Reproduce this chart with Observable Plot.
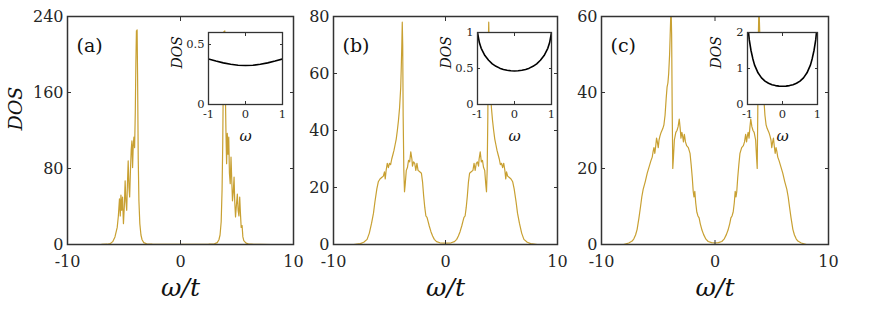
<!DOCTYPE html>
<html>
<head>
<meta charset="utf-8">
<script src="https://cdn.jsdelivr.net/npm/d3@7"></script>
<script src="https://cdn.jsdelivr.net/npm/@observablehq/plot@0.6"></script>
<style>
  html, body { margin: 0; padding: 0; background: #fff; }
  #root { position: relative; width: 872px; height: 309px; overflow: hidden; }
  #root > svg { position: absolute; background: transparent !important; overflow: visible !important; }
</style>
</head>
<body>
<div id="root"></div>
<script>
// ---------- Data ----------
const xTicks = [-10, 0, 10];
const insetXTicks = [-1, 0, 1];

const yTicksA = [0, 80, 160, 240];
const yTicksB = [0, 20, 40, 60, 80];
const yTicksC = [0, 20, 40, 60];

const insetYTicksA = [0, 0.5];
const insetYTicksB = [0, 0.5, 1];
const insetYTicksC = [0, 1, 2];

const panelLabels = ["(a)", "(b)", "(c)"];

// Panel (a) main DOS
const omegaA = [-8.0, -7.0, -6.5, -6.2, -6.0, -5.8, -5.6, -5.5, -5.4, -5.33, -5.27, -5.2, -5.13, -5.05, -4.97, -4.9, -4.83, -4.76, -4.7, -4.63, -4.56, -4.5, -4.43, -4.36, -4.3, -4.24, -4.18, -4.12, -4.06, -4.0, -3.95, -3.9, -3.87, -3.84, -3.8, -3.74, -3.68, -3.6, -3.5, -3.4, -3.25, -3.0, -2.5, -2.0, -1.0, 0.0, 1.0, 2.0, 2.5, 3.0, 3.25, 3.4, 3.5, 3.6, 3.68, 3.74, 3.8, 3.84, 3.88, 3.92, 3.97, 4.02, 4.08, 4.14, 4.2, 4.27, 4.33, 4.4, 4.47, 4.53, 4.6, 4.67, 4.74, 4.8, 4.87, 4.95, 5.03, 5.1, 5.17, 5.24, 5.3, 5.37, 5.45, 5.52, 5.6, 5.8, 6.0, 6.5, 7.0, 8.0];
const dosA = [0, 0.1, 0.3, 1, 3, 8, 18, 30, 48, 30, 52, 36, 50, 22, 40, 67, 45, 36, 62, 88, 60, 50, 78, 100, 109, 81, 105, 113, 102, 140, 190, 225, 212, 226, 180, 90, 46, 22, 10, 5, 2, 0.8, 0.3, 0.2, 0.2, 0.2, 0.2, 0.2, 0.3, 0.8, 2, 5, 10, 24, 58, 108, 190, 224, 212, 225, 160, 120, 85, 117, 95, 113, 75, 64, 92, 70, 46, 55, 71, 45, 29, 42, 53, 36, 30, 50, 34, 18, 20, 8, 4, 1.5, 0.6, 0.2, 0.1, 0];

// Panel (b) main DOS
const omegaB = [-8.2, -7.6, -7.3, -7.0, -6.8, -6.6, -6.43, -6.3, -6.13, -6.0, -5.85, -5.7, -5.55, -5.45, -5.38, -5.3, -5.2, -5.1, -5.0, -4.9, -4.8, -4.7, -4.6, -4.5, -4.4, -4.3, -4.2, -4.1, -4.0, -3.95, -3.9, -3.86, -3.82, -3.78, -3.72, -3.66, -3.6, -3.5, -3.4, -3.3, -3.2, -3.1, -3.0, -2.95, -2.85, -2.75, -2.65, -2.55, -2.45, -2.3, -2.15, -2.05, -1.95, -1.85, -1.75, -1.65, -1.55, -1.45, -1.3, -1.15, -1.0, -0.8, -0.5, 0.0, 0.5, 0.8, 1.0, 1.15, 1.3, 1.45, 1.55, 1.65, 1.75, 1.85, 1.95, 2.05, 2.15, 2.3, 2.45, 2.55, 2.65, 2.75, 2.85, 2.95, 3.0, 3.1, 3.2, 3.3, 3.4, 3.5, 3.6, 3.66, 3.72, 3.78, 3.82, 3.86, 3.9, 3.95, 4.0, 4.1, 4.2, 4.3, 4.4, 4.5, 4.6, 4.7, 4.8, 4.9, 5.0, 5.1, 5.2, 5.3, 5.38, 5.45, 5.55, 5.7, 5.85, 6.0, 6.13, 6.3, 6.43, 6.6, 6.8, 7.0, 7.3, 7.6, 8.2];
const dosB = [0, 0.3, 0.8, 1.8, 4, 7.5, 11, 15, 19.5, 22, 23, 23.5, 24, 25.5, 23, 26, 28.5, 27, 28.5, 28, 30, 31.5, 33, 35, 37, 40, 43.5, 48, 55, 62, 70, 78, 70, 45, 26, 18.5, 21, 26, 27, 29.5, 29, 32.5, 30, 27.5, 29, 28.5, 26, 28.5, 26, 25.5, 25, 22, 17, 13, 10, 9.5, 8, 6.5, 4.5, 3, 1.8, 1, 0.6, 0.5, 0.6, 1, 1.8, 3, 4.5, 6.5, 8, 9.5, 10, 13, 17, 22, 25, 25.5, 26, 28.5, 26, 28.5, 29, 27.5, 30, 32.5, 29, 29.5, 27, 26, 21, 18.5, 26, 45, 70, 78, 70, 62, 55, 48, 43.5, 40, 37, 35, 33, 31.5, 30, 28, 28.5, 27, 28.5, 26, 23, 25.5, 24, 23.5, 23, 22, 19.5, 15, 11, 7.5, 4, 1.8, 0.8, 0.3, 0];

// Panel (c) main DOS
const omegaC = [-8.05, -7.6, -7.3, -7.15, -7.0, -6.86, -6.7, -6.56, -6.45, -6.33, -6.15, -5.97, -5.8, -5.65, -5.53, -5.45, -5.38, -5.3, -5.22, -5.15, -5.08, -5.0, -4.93, -4.85, -4.75, -4.6, -4.5, -4.4, -4.3, -4.22, -4.15, -4.08, -4.0, -3.95, -3.9, -3.86, -3.82, -3.77, -3.72, -3.66, -3.58, -3.45, -3.35, -3.25, -3.15, -3.08, -3.0, -2.92, -2.85, -2.78, -2.7, -2.6, -2.5, -2.35, -2.2, -2.1, -2.0, -1.92, -1.85, -1.78, -1.7, -1.6, -1.5, -1.4, -1.3, -1.15, -1.0, -0.8, -0.6, -0.3, 0.0, 0.3, 0.6, 0.8, 1.0, 1.15, 1.3, 1.4, 1.5, 1.6, 1.7, 1.78, 1.85, 1.92, 2.0, 2.1, 2.2, 2.35, 2.5, 2.6, 2.7, 2.78, 2.85, 2.92, 3.0, 3.08, 3.15, 3.25, 3.35, 3.45, 3.58, 3.66, 3.72, 3.77, 3.82, 3.86, 3.9, 3.95, 4.0, 4.08, 4.15, 4.22, 4.3, 4.4, 4.5, 4.6, 4.75, 4.85, 4.93, 5.0, 5.08, 5.15, 5.22, 5.3, 5.38, 5.45, 5.53, 5.65, 5.8, 5.97, 6.15, 6.33, 6.45, 6.56, 6.7, 6.86, 7.0, 7.15, 7.3, 7.6, 8.05];
const dosC = [0, 0.4, 0.9, 1.5, 2.5, 4, 7, 10, 12.5, 14.5, 16.5, 18.8, 20.5, 22, 23, 24.5, 25.5, 24, 26, 28, 27, 25.5, 27.5, 28.5, 29.5, 30.5, 31.5, 34, 38.5, 41.5, 42.5, 45, 50, 55, 60, 61, 55, 35, 20, 23, 27.5, 29.5, 30, 31, 33, 31, 28, 29.5, 28.5, 27, 29, 27, 26, 25.5, 24, 21, 17.5, 14, 12.5, 14, 11, 8.5, 7.5, 7, 5.5, 3.8, 2.6, 1.4, 0.8, 0.5, 0.4, 0.5, 0.8, 1.4, 2.6, 3.8, 5.5, 7, 7.5, 8.5, 11, 14, 12.5, 14, 17.5, 21, 24, 25.5, 26, 27, 29, 27, 28.5, 29.5, 28, 31, 33, 31, 30, 29.5, 27.5, 23, 20, 35, 55, 61, 60, 55, 50, 45, 42.5, 41.5, 38.5, 34, 31.5, 30.5, 29.5, 28.5, 27.5, 25.5, 27, 28, 26, 24, 25.5, 24.5, 23, 22, 20.5, 18.8, 16.5, 14.5, 12.5, 10, 7, 4, 2.5, 1.5, 0.9, 0.4, 0];

// Insets
const insetOmegaA = [-1, -0.8, -0.6, -0.4, -0.2, 0, 0.2, 0.4, 0.6, 0.8, 1];
const insetDosA = [0.38, 0.362, 0.347, 0.335, 0.327, 0.325, 0.327, 0.335, 0.347, 0.362, 0.38];

const insetOmegaB = [-1, -0.95, -0.9, -0.8, -0.7, -0.6, -0.5, -0.4, -0.3, -0.2, -0.1, 0, 0.1, 0.2, 0.3, 0.4, 0.5, 0.6, 0.7, 0.8, 0.9, 0.95, 1];
const insetDosB = [1.0, 0.86, 0.78, 0.68, 0.615, 0.565, 0.53, 0.505, 0.487, 0.475, 0.468, 0.466, 0.468, 0.475, 0.487, 0.505, 0.53, 0.565, 0.615, 0.68, 0.78, 0.86, 1.0];

const insetOmegaC = [-0.97, -0.95, -0.9, -0.85, -0.8, -0.7, -0.6, -0.5, -0.4, -0.3, -0.2, -0.1, 0, 0.1, 0.2, 0.3, 0.4, 0.5, 0.6, 0.7, 0.8, 0.85, 0.9, 0.95, 0.97];
const insetDosC = [2.0, 1.8, 1.5, 1.28, 1.1, 0.88, 0.74, 0.65, 0.59, 0.55, 0.525, 0.51, 0.505, 0.51, 0.525, 0.55, 0.59, 0.65, 0.74, 0.88, 1.1, 1.28, 1.5, 1.8, 2.0];

// ---------- Styling ----------
const GOLD = "#c8a032";
const AX = "#333333";
const TXT = "#262626";
const SERIF = "DejaVu Serif";

const zip = (xs, ys) => xs.map((x, i) => ({x, y: ys[i]}));
const fmt = d => String(d);

function boxAxes(xt, yt, fontSize, xPad, yPad, tick) {
  return [
    Plot.axisX(xt, {anchor: "bottom", tickSize: 0, tickPadding: xPad, fontSize, fontFamily: SERIF, label: null, fill: TXT, tickFormat: fmt}),
    Plot.axisY(yt, {anchor: "left", tickSize: 0, tickPadding: yPad, fontSize, fontFamily: SERIF, label: null, fill: TXT, tickFormat: fmt}),
    Plot.axisX(xt, {anchor: "bottom", tickSize: -tick, tickFormat: () => "", label: null, stroke: AX}),
    Plot.axisX(xt, {anchor: "top", tickSize: -tick, tickFormat: () => "", label: null, stroke: AX}),
    Plot.axisY(yt, {anchor: "left", tickSize: -tick, tickFormat: () => "", label: null, stroke: AX}),
    Plot.axisY(yt, {anchor: "right", tickSize: -tick, tickFormat: () => "", label: null, stroke: AX})
  ];
}

function mainPanel({omega, dos, yTicks, label, left, width, mL, mR, showYLabel}) {
  const yMax = yTicks[yTicks.length - 1];
  const marks = [
    Plot.line(zip(omega, dos), {x: "x", y: "y", stroke: GOLD, strokeWidth: 1.2, clip: true}),
    ...boxAxes(xTicks, yTicks, 16, 11, 4, 4),
    Plot.frame({stroke: AX, strokeWidth: 1.5}),
    Plot.text([label], {frameAnchor: "top-left", dx: 9, dy: 29, textAnchor: "start", lineAnchor: "middle", fontSize: 19, fontFamily: SERIF, fill: "#111"}),
    Plot.text(["ω/t"], {frameAnchor: "bottom", dy: 43, lineAnchor: "middle", fontSize: 25, fontFamily: SERIF, fontStyle: "italic", fill: "#111"})
  ];
  if (showYLabel) {
    marks.push(Plot.text(["DOS"], {frameAnchor: "left", dx: -52, rotate: -90, lineAnchor: "middle", fontSize: 19, fontFamily: SERIF, fontStyle: "italic", fill: "#111"}));
  }
  const p = Plot.plot({
    width, height: 309,
    marginLeft: mL, marginRight: mR, marginTop: 16, marginBottom: 65,
    x: {domain: [-10, 10], ticks: xTicks},
    y: {domain: [0, yMax], ticks: yTicks},
    marks
  });
  p.style.left = left + "px";
  p.style.top = "0px";
  return p;
}

function insetPanel({omega, dos, yTicks, left, mL, mR}) {
  const yMax = yTicks[yTicks.length - 1] * (yTicks.length === 2 ? 1.2 : 1);
  const p = Plot.plot({
    width: 130, height: 150,
    marginLeft: mL, marginRight: mR, marginTop: 32, marginBottom: 46,
    x: {domain: [-1, 1], ticks: insetXTicks},
    y: {domain: [0, yMax], ticks: yTicks},
    marks: [
      Plot.frame({fill: "white"}),
      Plot.line(zip(omega, dos), {x: "x", y: "y", stroke: "#000", strokeWidth: 1.6, clip: true}),
      ...boxAxes(insetXTicks, yTicks, 11.5, 5, 4, 3),
      Plot.frame({stroke: AX, strokeWidth: 1.3}),
      Plot.text(["ω"], {frameAnchor: "bottom", dy: 32, lineAnchor: "middle", fontSize: 15, fontFamily: SERIF, fontStyle: "italic", fill: "#111"}),
      Plot.text(["DOS"], {frameAnchor: "left", dx: -31, rotate: -90, lineAnchor: "middle", fontSize: 14, fontFamily: SERIF, fontStyle: "italic", fill: "#111"})
    ]
  });
  p.style.left = left + "px";
  p.style.top = "0px";
  return p;
}

const root = document.getElementById("root");
root.append(
  mainPanel({omega: omegaA, dos: dosA, yTicks: yTicksA, label: panelLabels[0], left: 0, width: 300, mL: 67, mR: 7, showYLabel: true}),
  mainPanel({omega: omegaB, dos: dosB, yTicks: yTicksB, label: panelLabels[1], left: 300, width: 270, mL: 33, mR: 13, showYLabel: false}),
  mainPanel({omega: omegaC, dos: dosC, yTicks: yTicksC, label: panelLabels[2], left: 570, width: 302, mL: 31, mR: 44, showYLabel: false}),
  insetPanel({omega: insetOmegaA, dos: insetDosA, yTicks: insetYTicksA, left: 160, mL: 48, mR: 8}),
  insetPanel({omega: insetOmegaB, dos: insetDosB, yTicks: insetYTicksB, left: 429, mL: 48, mR: 8}),
  insetPanel({omega: insetOmegaC, dos: insetDosC, yTicks: insetYTicksC, left: 699, mL: 48, mR: 12})
);
</script>
</body>
</html>
